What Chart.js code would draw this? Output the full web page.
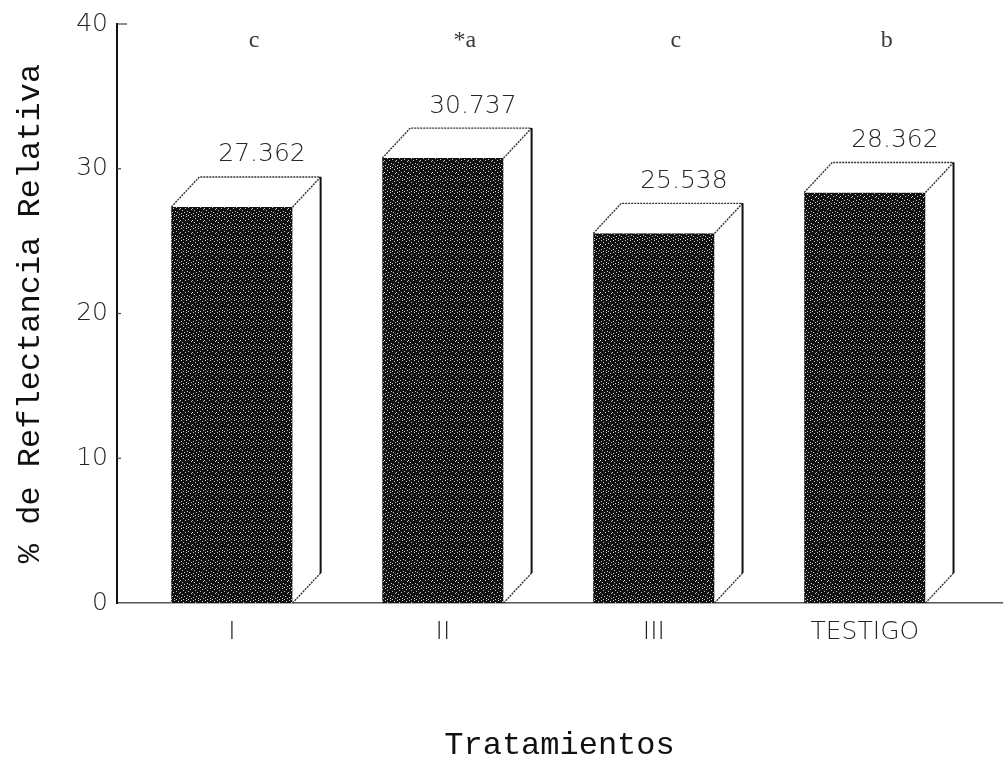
<!DOCTYPE html>
<html>
<head>
<meta charset="utf-8">
<script src="https://cdn.jsdelivr.net/npm/chart.js@4"></script>
<style>
  html, body { margin: 0 ; padding: 0 ; background: #fff ; }
</style>
</head>
<body>
<canvas id="reflectanciaChart" width="1004" height="763"></canvas>
<script>
// ---------------- Data ---------------------------------------------------
const TRATAMIENTOS = [ "I", "II", "III", "TESTIGO" ] ;
const REFLECTANCIA = [ 27.362, 30.737, 25.538, 28.362 ] ;
const LETRAS       = [ "c", "*a", "c", "b" ] ;
const Y_TICKS      = [ 0, 10, 20, 30, 40 ] ;

// ---------------- Constants ----------------------------------------------
const DEPTH_X = 28 ;
const DEPTH_Y = 30 ;
const INK     = '#262626' ;
const NUM_FONT = "200 25px 'DejaVu Sans'" ;

// ---------------- Stippled front face ------------------------------------
function makeStipple( ctx ) {
    var tile = document.createElement( 'canvas' ) ;
    tile.width = 12 ;
    tile.height = 12 ;
    var c = tile.getContext( '2d' ) ;
    c.fillStyle = '#111111' ;
    c.fillRect( 0, 0, 12, 12 ) ;
    c.fillStyle = '#cfcfcf' ;
    var dots = [ [1,0],[6,0],[10,1],[3,2],[8,3],[0,4],[5,4],[11,5],
                 [2,6],[7,7],[4,8],[9,8],[1,9],[6,10],[11,10],[3,11],[8,11] ] ;
    dots.forEach( function( d ) { c.fillRect( d[0], d[1], 1, 1 ) ; } ) ;
    return ctx.createPattern( tile, 'repeat' ) ;
}

// ---------------- Plugins ------------------------------------------------
const box3dPlugin = {
    id : 'box3d',
    afterDatasetsDraw : function( chart ) {
        var ctx = chart.ctx ;
        var meta = chart.getDatasetMeta( 0 ) ;

        meta.data.forEach( function( bar, i ) {
            var p = bar.getProps( [ 'x', 'y', 'base', 'width' ], true ) ;
            var l = p.x - p.width / 2 ;
            var r = p.x + p.width / 2 ;

            ctx.save() ;
            ctx.fillStyle = '#ffffff' ;
            ctx.strokeStyle = '#333333' ;
            ctx.lineWidth = 1.4 ;
            ctx.lineJoin = 'round' ;

            // white faces first
            ctx.beginPath() ;
            ctx.moveTo( l, p.y ) ;
            ctx.lineTo( l + DEPTH_X, p.y - DEPTH_Y ) ;
            ctx.lineTo( r + DEPTH_X, p.y - DEPTH_Y ) ;
            ctx.lineTo( r + DEPTH_X, p.base - DEPTH_Y ) ;
            ctx.lineTo( r, p.base ) ;
            ctx.lineTo( r, p.y ) ;
            ctx.closePath() ;
            ctx.fill() ;

            // dotted edges of the top face and the side diagonals
            ctx.setLineDash( [ 2, 1 ] ) ;
            ctx.beginPath() ;
            ctx.moveTo( l, p.y ) ;
            ctx.lineTo( l + DEPTH_X, p.y - DEPTH_Y ) ;
            ctx.lineTo( r + DEPTH_X, p.y - DEPTH_Y ) ;
            ctx.moveTo( r, p.y ) ;
            ctx.lineTo( r + DEPTH_X, p.y - DEPTH_Y ) ;
            ctx.moveTo( r, p.base ) ;
            ctx.lineTo( r + DEPTH_X, p.base - DEPTH_Y ) ;
            ctx.stroke() ;
            ctx.setLineDash( [] ) ;

            // solid back edge of the side face
            ctx.strokeStyle = '#111111' ;
            ctx.lineWidth = 2 ;
            ctx.beginPath() ;
            ctx.moveTo( r + DEPTH_X, p.y - DEPTH_Y ) ;
            ctx.lineTo( r + DEPTH_X, p.base - DEPTH_Y ) ;
            ctx.stroke() ;

            // value on top of the box
            ctx.fillStyle = INK ;
            ctx.font = NUM_FONT ;
            ctx.textAlign = 'center' ;
            ctx.textBaseline = 'middle' ;
            ctx.fillText( REFLECTANCIA[i].toFixed( 3 ), p.x + 30, p.y - DEPTH_Y - 22 ) ;

            // significance letter
            ctx.fillStyle = '#3a3a3a' ;
            ctx.font = "24px 'Liberation Serif'" ;
            ctx.fillText( LETRAS[i], p.x + 22, chart.chartArea.top + 17 ) ;
            ctx.restore() ;
        } ) ;
    }
} ;

const innerTicksPlugin = {
    id : 'innerTicks',
    afterDraw : function( chart ) {
        var ctx = chart.ctx ;
        var yScale = chart.scales.y ;
        var x0 = chart.chartArea.left ;

        ctx.save() ;
        ctx.strokeStyle = '#444444' ;
        ctx.lineWidth = 1.2 ;
        Y_TICKS.forEach( function( v, i ) {
            if( v == 0 ) return ;
            var y = yScale.getPixelForValue( v ) ;
            var len = ( i == Y_TICKS.length - 1 ) ? 10 : 4 ;
            ctx.beginPath() ;
            ctx.moveTo( x0, y ) ;
            ctx.lineTo( x0 + len, y ) ;
            ctx.stroke() ;
        } ) ;
        ctx.restore() ;
    }
} ;

// ---------------- Chart --------------------------------------------------
var canvas = document.getElementById( 'reflectanciaChart' ) ;
var ctx = canvas.getContext( '2d' ) ;

var barData = REFLECTANCIA.map( function( v, i ) {
    return { x : i + 1, y : v } ;
} ) ;

new Chart( canvas, {
    type : 'bar',
    data : {
        datasets : [ {
            data             : barData,
            backgroundColor  : makeStipple( ctx ),
            borderWidth      : 0,
            barPercentage    : 0.575,
            categoryPercentage : 1.0,
        } ]
    },
    options : {
        responsive : false,
        animation : false,
        layout : { padding : { left : 0, right : 2, top : 23, bottom : 0 } },
        plugins : {
            legend : { display : false },
            tooltip : { enabled : false },
        },
        scales : {
            x : {
                type : 'linear',
                offset : false,
                min : 0.455,
                max : 4.65,
                afterBuildTicks : function( scale ) {
                    scale.ticks = TRATAMIENTOS.map( function( _t, i ) { return { value : i + 1 } ; } ) ;
                },
                afterFit : function( scale ) { scale.height = 160 ; },
                grid : { display : false, drawTicks : false },
                border : { display : true, color : '#555555', width : 1.5 },
                ticks : {
                    padding : 14,
                    color : INK,
                    font : { family : 'DejaVu Sans', size : 25, weight : '200' },
                    callback : function( value ) { return TRATAMIENTOS[ value - 1 ] ; }
                },
                title : {
                    display : true,
                    text : 'Tratamientos',
                    color : '#111111',
                    font : { family : 'Liberation Mono', size : 32, lineHeight : 1 },
                    padding : { top : 0, bottom : 1 }
                }
            },
            y : {
                min : 0,
                max : 40,
                afterBuildTicks : function( scale ) {
                    scale.ticks = Y_TICKS.map( function( v ) { return { value : v } ; } ) ;
                },
                afterFit : function( scale ) { scale.width = 117 ; },
                grid : { display : false, drawTicks : false },
                border : { display : true, color : '#111111', width : 2 },
                ticks : {
                    padding : 9,
                    color : INK,
                    font : { family : 'DejaVu Sans', size : 25, weight : '200' },
                },
                title : {
                    display : true,
                    text : '% de Reflectancia Relativa',
                    color : '#111111',
                    font : { family : 'Liberation Mono', size : 32, lineHeight : 1 },
                    padding : { top : 15, bottom : 0 }
                }
            }
        }
    },
    plugins : [ box3dPlugin, innerTicksPlugin ]
} ) ;
</script>
</body>
</html>
